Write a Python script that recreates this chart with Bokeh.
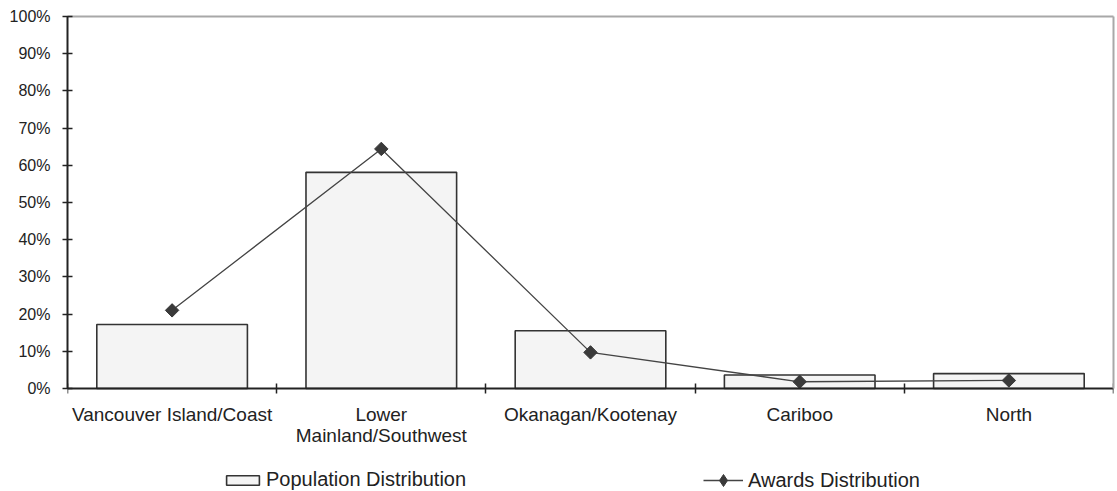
import math

from bokeh.embed import file_html
from bokeh.models import FixedTicker, Legend, LegendItem, ColumnDataSource, LinearAxis
from bokeh.plotting import figure
from bokeh.resources import INLINE

# Regional shares (percent)
regions = ["Vancouver Island/Coast", "Lower\nMainland/Southwest",
           "Okanagan/Kootenay", "Cariboo", "North"]
population_pct = [17.2, 58.1, 15.5, 3.6, 4.0]
awards_pct = [21.0, 64.4, 9.7, 1.8, 2.15]
y_ticks = [0, 10, 20, 30, 40, 50, 60, 70, 80, 90, 100]

FONT = "Liberation Sans"
INK = "#222222"
FRAME_GREY = "#a8a8a8"
MARK = "#3a3a3a"

# the plotting frame runs below 0% so that category names and the key sit inside it
Y_LOW = -27.7

positions = list(range(len(regions)))
src = ColumnDataSource(dict(x=positions, pop=population_pct, awards=awards_pct))

p = figure(width=1117, height=491, output_backend="svg", toolbar_location=None,
           x_range=(-0.5, len(regions) - 0.5), y_range=(Y_LOW, 100),
           x_axis_location=None,
           min_border_left=67, min_border_right=4, min_border_top=16,
           min_border_bottom=0)
p.background_fill_color = "white"
p.border_fill_color = "white"
p.outline_line_color = None
p.xgrid.visible = False
p.ygrid.visible = False

bars = p.vbar(x="x", top="pop", width=0.72, bottom=0, source=src,
              fill_color="#f4f4f4", line_color="#333333", line_width=1.6)
line = p.line(x="x", y="awards", source=src, line_color="#444444", line_width=1.3)
# diamond glyph that the key uses; the rotated squares drawn over it are the visible points
key_marks = p.scatter(x="x", y="awards", source=src, marker="diamond", size=12,
                      fill_color=MARK, line_color=MARK)
marks = p.scatter(x="x", y="awards", source=src, marker="square", angle=math.pi / 4,
                  size=9.5, fill_color=MARK, line_color=MARK)

# Y axis: percentage ticks crossing the axis line, limited to 0..100
ya = p.yaxis[0]
ya.bounds = (0, 100)
ya.ticker = FixedTicker(ticks=y_ticks)
ya.major_label_overrides = {t: f"{t}%" for t in y_ticks}
ya.major_tick_in = 5
ya.major_tick_out = 5
ya.minor_tick_line_color = None
ya.major_tick_line_color = INK
ya.major_tick_line_width = 1.5
ya.axis_line_color = INK
ya.axis_line_width = 2
ya.major_label_standoff = 12
ya.major_label_text_font = FONT
ya.major_label_text_font_size = "16px"
ya.major_label_text_color = INK


def frame_edge(axis):
    # plain grey edge line without ticks or labels
    axis.major_tick_line_color = None
    axis.minor_tick_line_color = None
    axis.major_label_text_font_size = "0px"
    axis.major_label_standoff = 0
    axis.axis_line_color = FRAME_GREY
    axis.axis_line_width = 2
    return axis


top_edge = frame_edge(LinearAxis(ticker=FixedTicker(ticks=[])))
p.add_layout(top_edge, "above")
right_edge = frame_edge(LinearAxis(ticker=FixedTicker(ticks=[]), bounds=(0, 100)))
p.add_layout(right_edge, "right")

# X axis at 0%: category names centred, tick marks at the category boundaries
xa = LinearAxis(fixed_location=0)
xa.ticker = FixedTicker(ticks=positions,
                        minor_ticks=[i - 0.5 for i in range(len(regions) + 1)])
xa.major_label_overrides = {i: name for i, name in enumerate(regions)}
xa.major_tick_in = 0
xa.major_tick_out = 0
xa.minor_tick_in = 5
xa.minor_tick_out = 5
xa.minor_tick_line_color = INK
xa.minor_tick_line_width = 1.5
xa.axis_line_color = INK
xa.axis_line_width = 2
xa.major_label_standoff = 11
xa.major_label_text_font = FONT
xa.major_label_text_font_size = "19px"
xa.major_label_text_line_height = 1.0
xa.major_label_text_color = INK
p.add_layout(xa, "below")

key_style = dict(orientation="horizontal", padding=0, margin=0,
                 border_line_color=None, background_fill_alpha=0,
                 label_text_font=FONT, label_text_font_size="20px",
                 label_text_color=INK)

pop_key = Legend(items=[LegendItem(label="Population Distribution", renderers=[bars])],
                 location=(155, 0), glyph_width=41, glyph_height=12,
                 label_standoff=3, **key_style)
awd_key = Legend(items=[LegendItem(label="Awards Distribution",
                                   renderers=[line, key_marks])],
                 location=(636, -4), glyph_width=40, glyph_height=30,
                 label_standoff=5, **key_style)
p.add_layout(pop_key, "center")
p.add_layout(awd_key, "center")

open("out.html", "w").write(file_html(p, INLINE))
